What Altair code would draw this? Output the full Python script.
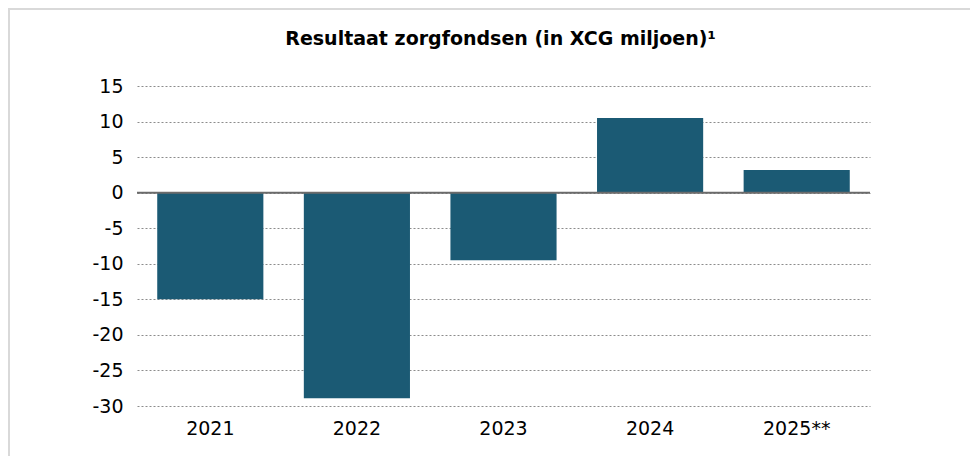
import altair as alt
import pandas as pd

years = ["2021", "2022", "2023", "2024", "2025**"]
values = [-15.0, -28.9, -9.5, 10.5, 3.2]
y_ticks = [-30, -25, -20, -15, -10, -5, 0, 5, 10, 15]
title_text = "Resultaat zorgfondsen (in XCG miljoen)¹"

df = pd.DataFrame({"jaar": years, "resultaat": values})

W, H = 733, 320
PL, PT = 129, 78
FONT = "DejaVu Sans"

y_axis = alt.Axis(values=y_ticks, ticks=False, domain=False, grid=True,
                  gridColor="#8c8c8c", gridDash=[2, 2], gridWidth=1,
                  labelFontSize=19, labelFont=FONT, labelColor="#000000",
                  labelPadding=14, labelExpr="datum.value + ''")
y_scale = alt.Scale(domain=[-30, 15], nice=False)

bars = alt.Chart(df).mark_bar(color="#1b5a74").encode(
    x=alt.X("jaar:N", sort=years, title=None,
            scale=alt.Scale(paddingInner=0.276, paddingOuter=0.138),
            axis=alt.Axis(labelAngle=0, ticks=False, domain=False, grid=False,
                          labelFontSize=19, labelFont=FONT, labelColor="#000000",
                          labelPadding=13)),
    y=alt.Y("resultaat:Q", title=None, scale=y_scale, axis=y_axis),
)

zero_df = pd.DataFrame({"nul": [0]})
zero = alt.Chart(zero_df).mark_rule(color="#6b6b6b", strokeWidth=2).encode(
    y=alt.Y("nul:Q", title=None, scale=y_scale, axis=y_axis)
)

title = alt.Chart(zero_df).mark_text(
    text=title_text, font=FONT, fontSize=19, fontWeight="bold",
    color="#000000", align="center", baseline="alphabetic"
).encode(x=alt.value(W / 2 - 3), y=alt.value(-41))

border_left = alt.Chart(zero_df).mark_rule(color="#d9d9d9", strokeWidth=2).encode(
    x=alt.value(-PL + 1), y=alt.value(-PT), y2=alt.value(H + 60)
)
border_top = alt.Chart(zero_df).mark_rule(color="#d9d9d9", strokeWidth=2).encode(
    y=alt.value(-PT + 1), x=alt.value(-PL), x2=alt.value(W + 110)
)

chart = alt.layer(bars, zero, title, border_left, border_top).properties(
    width=W, height=H,
    autosize=alt.AutoSizeParams(type="none"),
    padding={"left": PL, "top": PT, "right": 100, "bottom": 50},
).configure(background="white").configure_view(strokeWidth=0, stroke="transparent")

chart.save("out.html", embed_options={"renderer": "svg", "actions": False})
